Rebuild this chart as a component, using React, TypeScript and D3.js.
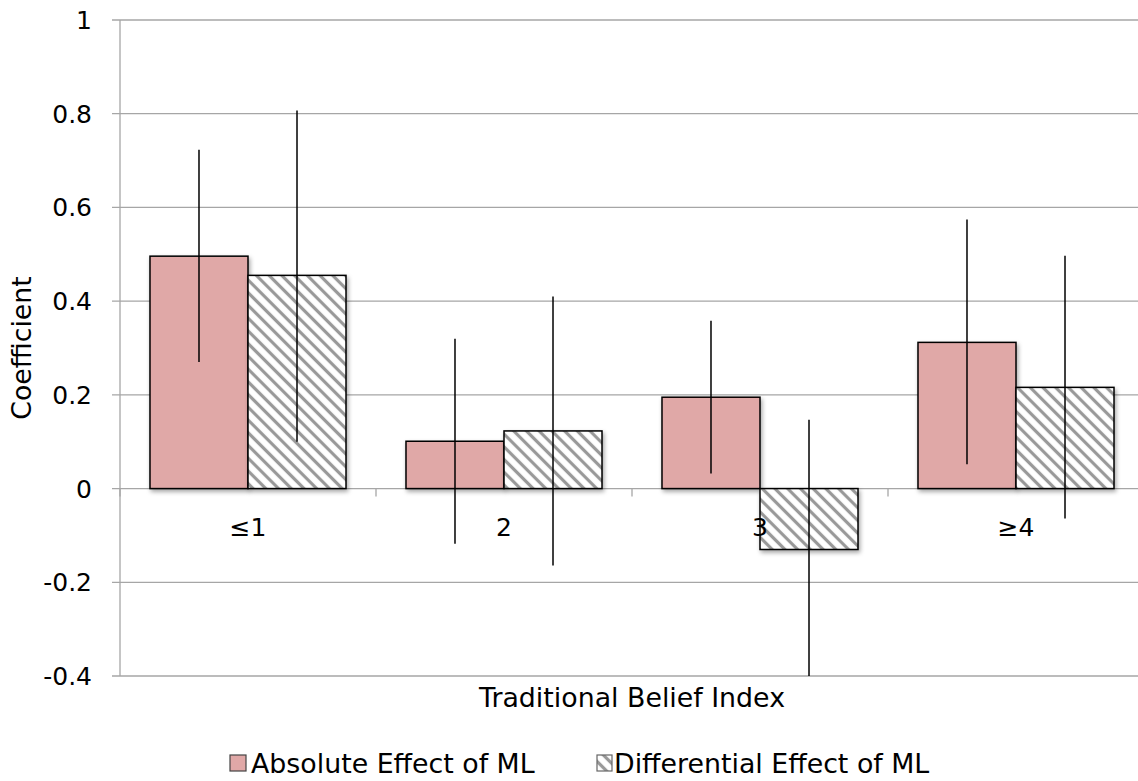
import * as d3 from 'd3';
import React from 'react';

// chart values
const categories = ['≤1', '2', '3', '≥4'];
const seriesNames = ['Absolute Effect of ML', 'Differential Effect of ML'];
const absoluteValues = [0.496, 0.101, 0.195, 0.312];
const absoluteLow = [0.27, -0.118, 0.032, 0.052];
const absoluteHigh = [0.723, 0.32, 0.358, 0.574];
const differentialValues = [0.455, 0.123, -0.13, 0.216];
const differentialLow = [0.1, -0.164, -0.4, -0.064];
const differentialHigh = [0.807, 0.41, 0.147, 0.497];
const yTicks = [-0.4, -0.2, 0, 0.2, 0.4, 0.6, 0.8, 1];

const W = 1138;
const H = 781;
const params = {
    left: 120,
    right: 1144,
    top: 20,
    bottom: 676,
    font: '"DejaVu Sans", sans-serif',
    tickSize: 25,
    titleSize: 26.8,
    pink: '#E0A8A7',
    grid: '#A6A6A6',
};

export default function App() {
    const x = d3.scaleBand<string>().domain(categories).range([params.left, params.right]);
    const inner = d3.scaleBand<number>().domain([0, 1]).range([0, x.bandwidth()]).paddingOuter(0.306).paddingInner(0);
    const y = d3.scaleLinear().domain([-0.4, 1]).range([params.bottom, params.top]);

    const series = [
        { values: absoluteValues, low: absoluteLow, high: absoluteHigh, fill: params.pink },
        { values: differentialValues, low: differentialLow, high: differentialHigh, fill: 'url(#hatch)' },
    ];
    const fs = params.tickSize;
    const ts = params.titleSize;

    return (
        <svg width={W} height={H} style={{ position: 'absolute', left: 0, top: 0, background: '#fff' }} fontFamily={params.font}>
            <defs>
                <pattern id="hatch" patternUnits="userSpaceOnUse" width="9" height="9" patternTransform="rotate(-45)">
                    <rect width="9" height="9" fill="#fff" />
                    <line x1="4.5" y1="-1" x2="4.5" y2="10" stroke="#999" strokeWidth="3.2" />
                </pattern>
                <filter id="shadow" x="-10%" y="-10%" width="130%" height="130%">
                    <feDropShadow dx="1.5" dy="2.5" stdDeviation="2" floodColor="#000" floodOpacity="0.35" />
                </filter>
            </defs>

            {/* gridlines */}
            {yTicks.map(t => (
                <g key={t}>
                    <line x1={params.left - 8} x2={params.right} y1={y(t)} y2={y(t)} stroke={params.grid} strokeWidth={1.3} />
                    <text x={params.left - 28} y={y(t)} dy="0.36em" textAnchor="end" fontSize={fs}>{t === 0 ? '0' : String(t)}</text>
                </g>
            ))}
            <line x1={params.left} x2={params.left} y1={params.top} y2={params.bottom} stroke={params.grid} strokeWidth={1.3} />

            {/* category ticks on zero line */}
            {categories.map(c => (
                <line key={'tk' + c} x1={x(c)!} x2={x(c)!} y1={y(0)} y2={y(0) + 8} stroke={params.grid} strokeWidth={1.3} />
            ))}

            {/* bars */}
            {series.map((s, si) => (
                <g key={'s' + si}>
                    {categories.map((c, i) => {
                        const bx = x(c)! + inner(si)!;
                        const v = s.values[i];
                        return (
                            <rect key={c} x={bx} y={Math.min(y(v), y(0))} width={inner.bandwidth()} height={Math.abs(y(v) - y(0))}
                                fill={s.fill} stroke="#000" strokeWidth={1.5} filter="url(#shadow)" />
                        );
                    })}
                </g>
            ))}

            {/* category labels */}
            {categories.map(c => (
                <text key={'l' + c} x={x(c)! + x.bandwidth() / 2} y={527} dy="0.36em" textAnchor="middle" fontSize={fs}>{c}</text>
            ))}

            {/* error bars */}
            {series.map((s, si) => (
                <g key={'e' + si}>
                    {categories.map((c, i) => {
                        const cx = x(c)! + inner(si)! + inner.bandwidth() / 2;
                        return <line key={c} x1={cx} x2={cx} y1={y(s.low[i])} y2={y(s.high[i])} stroke="#000" strokeWidth={1.5} />;
                    })}
                </g>
            ))}

            {/* axis titles */}
            <text transform={`translate(31,${(params.top + params.bottom) / 2}) rotate(-90)`} textAnchor="middle" fontSize={ts}>Coefficient</text>
            <text x={632} y={697} dy="0.36em" textAnchor="middle" fontSize={ts}>Traditional Belief Index</text>

            {/* legend */}
            <g transform="translate(230,755)">
                <rect x={0} y={0} width={16} height={16} fill={params.pink} stroke="#444" strokeWidth={1.2} />
                <text x={21} y={8} dy="0.36em" fontSize={ts}>{seriesNames[0]}</text>
            </g>
            <g transform="translate(597,755)">
                <rect x={0} y={0} width={15} height={16} fill="url(#hatch)" stroke="#666" strokeWidth={1.2} />
                <text x={17} y={8} dy="0.36em" fontSize={ts}>{seriesNames[1]}</text>
            </g>
        </svg>
    );
}
